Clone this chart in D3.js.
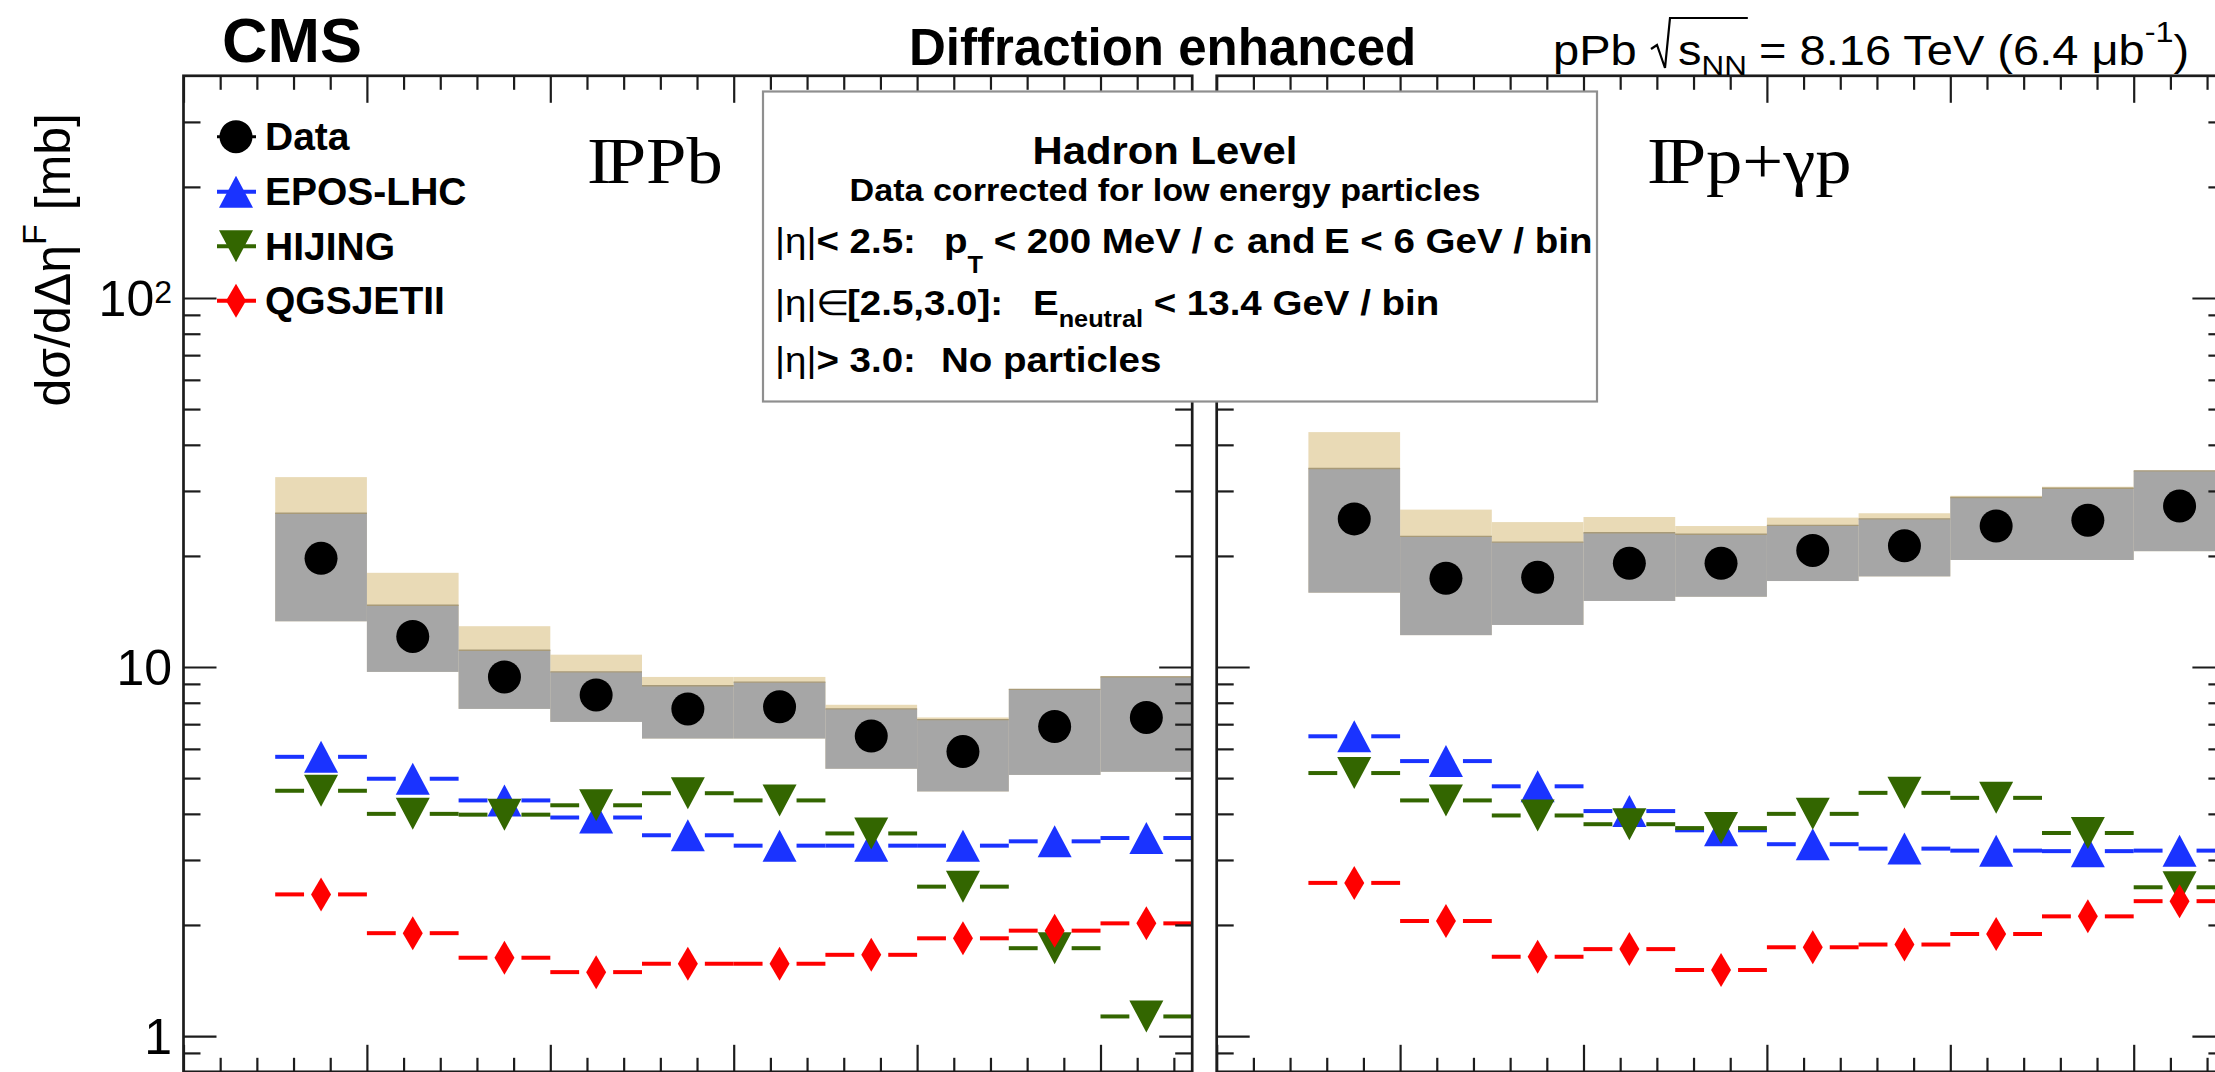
<!DOCTYPE html>
<html>
<head>
<meta charset="utf-8">
<script src="https://cdn.jsdelivr.net/npm/d3@7"></script>
<style>
  html, body { margin: 0; padding: 0; background: #fff; overflow: hidden; }
  text { white-space: pre; }
</style>
</head>
<body>
<svg id="fig" width="2215" height="1072"></svg>
<script>
// Forward rapidity-gap bins (lower/upper edges), shared by both panels
const gapEdges = [0.5, 1.0, 1.5, 2.0, 2.5, 3.0, 3.5, 4.0, 4.5, 5.0, 5.5];

// IPPb panel: measured cross sections [mb] and uncertainty bands
const pbData       = [19.7, 12.1, 9.4, 8.4, 7.7, 7.8, 6.5, 5.9, 6.9, 7.3];
const pbSystLow    = [13.3, 9.7, 7.7, 7.1, 6.4, 6.4, 5.3, 4.6, 5.1, 5.2];
const pbSystHigh   = [26.1, 14.7, 11.1, 9.7, 8.9, 9.1, 7.7, 7.2, 8.7, 9.4];
const pbCorrHigh   = [32.7, 18.0, 12.9, 10.8, 9.4, 9.4, 7.9, 7.3, 8.7, 9.45];
const pbEpos       = [5.71, 4.98, 4.35, 3.91, 3.50, 3.28, 3.28, 3.28, 3.37, 3.44];
const pbHijing     = [4.62, 4.00, 3.98, 4.22, 4.55, 4.35, 3.54, 2.54, 1.73, 1.13];
const pbQgsjet     = [2.42, 1.90, 1.63, 1.49, 1.57, 1.57, 1.66, 1.84, 1.93, 2.02];

// IPp + gamma p panel
const ppData       = [25.2, 17.4, 17.5, 19.1, 19.1, 20.7, 21.3, 24.1, 25.0, 27.3];
const ppSystLow    = [15.9, 12.2, 13.0, 15.1, 15.5, 17.1, 17.6, 19.5, 19.5, 20.6];
const ppSystHigh   = [34.5, 22.6, 21.8, 23.1, 22.9, 24.2, 25.2, 28.8, 30.5, 34.0];
const ppCorrHigh   = [43.3, 26.7, 24.7, 25.5, 24.1, 25.4, 26.1, 29.1, 30.8, 34.0];
const ppEpos       = [6.49, 5.56, 4.75, 4.07, 3.61, 3.31, 3.22, 3.18, 3.17, 3.18];
const ppHijing     = [5.16, 4.35, 3.96, 3.75, 3.66, 4.00, 4.56, 4.42, 3.55, 2.53];
const ppQgsjet     = [2.60, 2.05, 1.64, 1.72, 1.51, 1.74, 1.77, 1.89, 2.11, 2.32];

// Axis ranges and tick labels
const xDomain = [0, 5.5];
const yDomain = [0.8, 400];
const yLabelValues = [1, 10, 100];
const legendNames = ["Data", "EPOS-LHC", "HIJING", "QGSJETII"];
const panelNames = ["IPPb", "IPp+γp"];

const SANS = "Liberation Sans, Arial, Helvetica, sans-serif";
const SERIF = "Liberation Serif, Times New Roman, serif";
const AX = "#1c1c1c";
const GRAY = "#a6a6a6", TAN = "#e9dab6";
const BLUE = "#1a33ff", GREEN = "#336600", RED = "#ff0000";

const svg = d3.select("#fig");
const frameTop = 75.8, frameBottom = 1071.8, panelW = 1008.7;
const yScale = d3.scaleLog().domain(yDomain).range([frameBottom, frameTop]);

// Lays out a run of text pieces (sub/superscripts, mixed weights) left to right.
// opts.sx widens the glyphs horizontally; run.at pins a piece to an absolute x.
function rich(parent, x, y, runs, opts = {}) {
  const sx = opts.sx || 1;
  const outer = parent.append("g")
    .attr("transform", `translate(${x},${y})` + (opts.rotate ? ` rotate(${opts.rotate})` : "") +
      (sx !== 1 ? ` scale(${sx},1)` : ""));
  const g = outer.append("g");
  let cx = 0;
  const placed = [];
  runs.forEach(r => {
    if (r.at !== undefined) cx = (r.at - x) / sx;
    cx += (r.dx || 0);
    const t = g.append("text")
      .attr("x", cx).attr("y", r.dy || 0)
      .attr("font-family", r.family || SANS)
      .attr("font-size", r.size)
      .attr("font-weight", r.weight || "normal")
      .attr("fill", r.fill || "#000")
      .text(r.text);
    const w = t.node().getComputedTextLength();
    placed.push({ x: cx, w });
    cx += w;
  });
  let shift = 0;
  if (opts.anchor === "end") shift = -cx;
  if (opts.anchor === "middle") shift = -cx / 2;
  g.attr("transform", `translate(${shift},0)`);
  return placed.map(p => ({ x: x + (p.x + shift) * sx, w: p.w * sx }));
}

function markerPath(kind) {
  if (kind === "up") return "M0,-16L17,16L-17,16Z";
  if (kind === "down") return "M0,16L17,-16L-17,-16Z";
  if (kind === "diamond") return "M0,-17L10,0L0,17L-10,0Z";
  return d3.arc()({ innerRadius: 0, outerRadius: 16.5, startAngle: 0, endAngle: 2 * Math.PI });
}

const panels = [
  { x0: 183.5, data: pbData, lo: pbSystLow, hi: pbSystHigh, corr: pbCorrHigh,
    models: [pbEpos, pbHijing, pbQgsjet] },
  { x0: 1216.7, data: ppData, lo: ppSystLow, hi: ppSystHigh, corr: ppCorrHigh,
    models: [ppEpos, ppHijing, ppQgsjet] }
];
const modelStyle = [
  { color: BLUE, kind: "up" },
  { color: GREEN, kind: "down" },
  { color: RED, kind: "diamond" }
];

const bins = d3.range(gapEdges.length - 1).map(i => [gapEdges[i], gapEdges[i + 1]]);

panels.forEach(p => {
  const x = d3.scaleLinear().domain(xDomain).range([p.x0, p.x0 + panelW]);
  const g = svg.append("g");

  // uncertainty bands
  g.selectAll(".corr").data(bins).join("rect")
    .attr("x", d => x(d[0])).attr("width", d => x(d[1]) - x(d[0]))
    .attr("y", (d, i) => yScale(p.corr[i]))
    .attr("height", (d, i) => yScale(p.lo[i]) - yScale(p.corr[i]))
    .attr("fill", TAN);
  g.selectAll(".syst").data(bins).join("rect")
    .attr("x", d => x(d[0])).attr("width", d => x(d[1]) - x(d[0]))
    .attr("y", (d, i) => yScale(p.hi[i]))
    .attr("height", (d, i) => yScale(p.lo[i]) - yScale(p.hi[i]))
    .attr("fill", GRAY);
  g.selectAll(".systEdge").data(bins).join("line")
    .attr("x1", d => x(d[0])).attr("x2", d => x(d[1]))
    .attr("y1", (d, i) => yScale(p.hi[i])).attr("y2", (d, i) => yScale(p.hi[i]))
    .attr("stroke", "#a89a78").attr("stroke-width", 1.4);

  // data points
  g.selectAll(".pt").data(bins).join("circle")
    .attr("cx", d => x((d[0] + d[1]) / 2))
    .attr("cy", (d, i) => yScale(p.data[i]))
    .attr("r", 16.5).attr("fill", "#000");

  // model predictions: bin-wide bars with a marker at the bin centre
  p.models.forEach((vals, m) => {
    const st = modelStyle[m];
    const mg = g.append("g");
    bins.forEach((d, i) => {
      const cx = x((d[0] + d[1]) / 2), cy = yScale(vals[i]);
      mg.append("line").attr("x1", x(d[0])).attr("x2", cx - 17)
        .attr("y1", cy).attr("y2", cy).attr("stroke", st.color).attr("stroke-width", 4);
      mg.append("line").attr("x1", cx + 17).attr("x2", x(d[1]))
        .attr("y1", cy).attr("y2", cy).attr("stroke", st.color).attr("stroke-width", 4);
      mg.append("path").attr("d", markerPath(st.kind))
        .attr("transform", `translate(${cx},${cy})`).attr("fill", st.color);
    });
  });

  // frame and ticks on all four sides
  const majorX = d3.range(0, 5.5 + 1e-9, 1);
  const minorX = d3.range(0, 5.5 + 1e-9, 0.2).filter(v => Math.abs(v - Math.round(v)) > 1e-6);
  const majorY = yScale.ticks().filter(v => Math.abs(Math.log10(v) - Math.round(Math.log10(v))) < 1e-9);
  const minorY = yScale.ticks().filter(v => !majorY.includes(v) && v > yDomain[0] && v < yDomain[1]);

  const tickStyle = sel => {
    sel.select(".domain").remove();
    sel.selectAll("line").attr("stroke", AX).attr("stroke-width", 2.2);
  };
  const ax = g.append("g");
  [[majorX, 27], [minorX, 14]].forEach(([vals, len]) => {
    ax.append("g").attr("transform", `translate(0,${frameBottom})`)
      .call(d3.axisBottom(x).tickValues(vals).tickSizeInner(-len).tickSizeOuter(0).tickFormat(""))
      .call(tickStyle);
    ax.append("g").attr("transform", `translate(0,${frameTop})`)
      .call(d3.axisTop(x).tickValues(vals).tickSizeInner(-len).tickSizeOuter(0).tickFormat(""))
      .call(tickStyle);
  });
  [[majorY, 33], [minorY, 17]].forEach(([vals, len]) => {
    ax.append("g").attr("transform", `translate(${p.x0},0)`)
      .call(d3.axisLeft(yScale).tickValues(vals).tickSizeInner(-len).tickSizeOuter(0).tickFormat(""))
      .call(tickStyle);
    ax.append("g").attr("transform", `translate(${p.x0 + panelW},0)`)
      .call(d3.axisRight(yScale).tickValues(vals).tickSizeInner(-len).tickSizeOuter(0).tickFormat(""))
      .call(tickStyle);
  });
  ax.selectAll("text").remove();
  g.append("rect").attr("x", p.x0).attr("y", frameTop).attr("width", panelW).attr("height", frameBottom - frameTop)
    .attr("fill", "none").attr("stroke", AX).attr("stroke-width", 2.7);
});

// y tick labels
yLabelValues.forEach(v => {
  const e = Math.round(Math.log10(v));
  const yy = yScale(v) + 18;
  if (e <= 1) rich(svg, 172, yy, [{ text: String(v), size: 50 }], { anchor: "end" });
  else rich(svg, 172, yy, [{ text: "10", size: 50 }, { text: String(e), size: 32, dy: -13 }], { anchor: "end" });
});

// y axis title
rich(svg, 70, 113, [
  { text: "dσ/dΔη", size: 50 },
  { text: "F", size: 34, dy: -24 },
  { text: " [mb]", size: 50 }
], { anchor: "end", rotate: -90 });

// header
rich(svg, 222, 62, [{ text: "CMS", size: 63, weight: "bold" }]);
rich(svg, 909, 65, [{ text: "Diffraction enhanced", size: 51, weight: "bold" }]);
rich(svg, 1553, 65, [{ text: "pPb", size: 42 }], { sx: 1.12 });
const sq = rich(svg, 1678, 65, [
  { text: "s", size: 42 },
  { text: "NN", size: 28, dy: 10 }
], { sx: 1.12 });
svg.append("path")
  .attr("d", `M1651,49L1657,45L1665,68L1670,18L${sq[1].x + sq[1].w + 1},18`)
  .attr("fill", "none").attr("stroke", "#000").attr("stroke-width", 2.2);
rich(svg, 1759, 65, [
  { text: "= 8.16 TeV (6.4 μb", size: 42 },
  { text: "-1", size: 29, dy: -23 },
  { text: ")", size: 42 }
], { sx: 1.12 });

// panel labels: the Pomeron symbol is an I pressed against a P
const labelPos = [[587, 183], [1647, 183]];
panelNames.forEach((name, i) => {
  svg.append("text")
    .attr("transform", `translate(${labelPos[i][0]},${labelPos[i][1]}) scale(1.1,1)`)
    .attr("dx", "0 -5")
    .attr("font-family", SERIF).attr("font-size", 66).attr("fill", "#000")
    .text(name);
});

// legend
const legRows = [136.7, 191.7, 246.2, 300.7];
const legKinds = [{ color: "#000", kind: "circle" }].concat(modelStyle);
legendNames.forEach((name, i) => {
  const st = legKinds[i];
  svg.append("line").attr("x1", 217).attr("x2", 256).attr("y1", legRows[i]).attr("y2", legRows[i])
    .attr("stroke", st.color).attr("stroke-width", i === 0 ? 3 : 4);
  svg.append("path").attr("d", markerPath(st.kind))
    .attr("transform", `translate(236,${legRows[i]})`).attr("fill", st.color);
  rich(svg, 265, legRows[i] + 13.5, [{ text: name, size: 39, weight: "bold" }]);
});

// selection box
svg.append("rect").attr("x", 763).attr("y", 91.5).attr("width", 834).attr("height", 310)
  .attr("fill", "#fff").attr("stroke", "#8f8f8f").attr("stroke-width", 2.2);
rich(svg, 1165, 164, [{ text: "Hadron Level", size: 38, weight: "bold" }], { anchor: "middle", sx: 1.1 });
rich(svg, 1165, 201, [{ text: "Data corrected for low energy particles", size: 31, weight: "bold" }], { anchor: "middle", sx: 1.1 });
rich(svg, 775, 253, [
  { text: "|η|", size: 35 },
  { text: "< 2.5:", size: 35, weight: "bold" },
  { text: "p", size: 35, weight: "bold", at: 944 },
  { text: "T", size: 23, weight: "bold", dy: 20 },
  { text: " < 200 MeV / c", size: 35, weight: "bold" },
  { text: "and", size: 35, weight: "bold", at: 1247 },
  { text: "E < 6 GeV / bin", size: 35, weight: "bold", at: 1324 }
], { sx: 1.1 });
rich(svg, 775, 315, [
  { text: "|η|", size: 35 },
  { text: "∈", size: 35 },
  { text: "[2.5,3.0]:", size: 35, weight: "bold", at: 847 },
  { text: "E", size: 35, weight: "bold", at: 1033 },
  { text: "neutral", size: 23, weight: "bold", dy: 12 },
  { text: " < 13.4 GeV / bin", size: 35, weight: "bold" }
], { sx: 1.1 });
rich(svg, 775, 372, [
  { text: "|η|", size: 35 },
  { text: "> 3.0:", size: 35, weight: "bold" },
  { text: "No particles", size: 35, weight: "bold", at: 941 }
], { sx: 1.1 });
</script>
</body>
</html>
